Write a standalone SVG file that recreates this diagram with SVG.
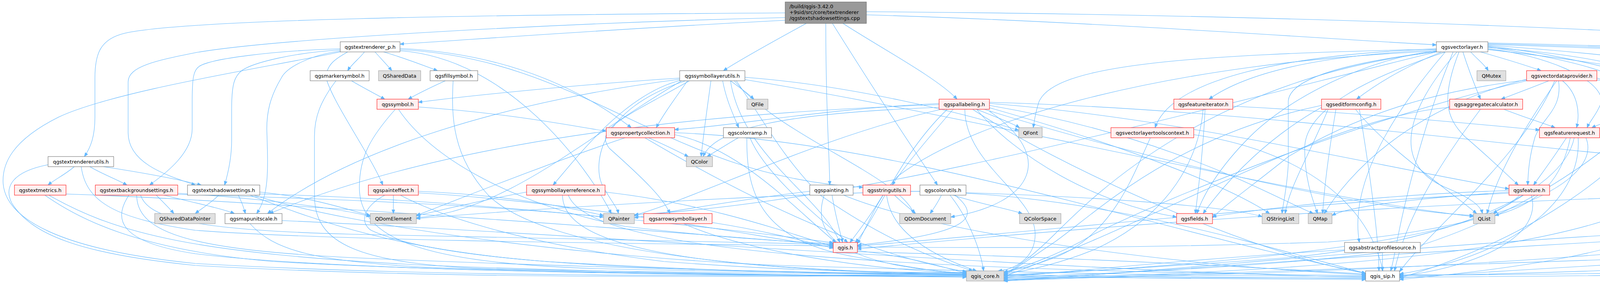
<svg xmlns="http://www.w3.org/2000/svg" width="5460" height="725" viewBox="0 0 5460 725">
<defs>
<style>
rect{stroke-width:1}
.w rect{fill:#ffffff;stroke:#666666}
.r rect{fill:#fff0f0;stroke:#ff0000}
.g rect{fill:#e0e0e0;stroke:#999999}
.t rect{fill:#999999;stroke:#666666}
text{font-family:"DejaVu Sans","Liberation Sans",sans-serif;font-size:12.85px;fill:#000000;text-anchor:middle}
.t text{text-anchor:start}
#edges path{fill:none;stroke:#63b8ff;stroke-width:1.1;marker-end:url(#a)}
</style>
<marker id="a" markerUnits="userSpaceOnUse" viewBox="0 0 11 9" markerWidth="11" markerHeight="9" refX="10" refY="4" orient="auto"><path d="M0,0 L10,4 L0,8 z" fill="#63b8ff" stroke="#63b8ff" stroke-width="1"/></marker>
</defs>
<rect width="5460" height="725" fill="#ffffff"/>
<g id="edges">
<path d="M2010,33 C1200,38 480,50 320,85 C255,100 243,140 243,200 L243,300 C243,350 232,378 216,401"/>
<path d="M2010,45 C1400,60 700,100 500,135 C400,155 328,170 328,210 L328,340 C328,420 430,450 500,474"/>
<path d="M2010,52 C1600,72 1200,102 1024,113"/>
<path d="M2064,60 C2000,95 1900,150 1852,181"/>
<path d="M2114,60 C2114,300 2124,400 2124,474"/>
<path d="M2131,60 C2250,250 2350,400 2400,474"/>
<path d="M2158,60 C2250,120 2400,200 2450,254"/>
<path d="M2218,38 C2800,55 3400,100 3677,115"/>
<path d="M2218,30 C3500,38 4900,100 5250,170 C5295,180 5302,195 5302,215 L5302,420 C5302,480 5340,515 5373,547"/>
<path d="M933,133 C920,150 900,165 890,181"/>
<path d="M960,133 C975,150 990,165 1003,181"/>
<path d="M982,133 C1040,150 1090,170 1120,181"/>
<path d="M871,125 C700,130 540,150 510,170 C495,180 492,200 492,260 L492,330 C492,390 430,440 383,474"/>
<path d="M871,128 C750,135 650,160 620,180 C600,195 593,215 593,280 L593,360 C593,400 585,440 575,474"/>
<path d="M871,131 C800,140 735,170 720,200 C690,250 683,290 683,330 C686,430 690,500 657,547"/>
<path d="M890,133 C860,150 835,165 835,200 C850,260 950,400 980,474"/>
<path d="M1024,124 C1250,135 1450,200 1616,327"/>
<path d="M1024,127 C1500,150 1700,450 2209,480"/>
<path d="M1024,130 C1300,150 1500,420 1565,547"/>
<path d="M871,133 C700,170 300,230 150,300 C30,360 5,420 8,470 C15,560 150,640 500,675 C1200,715 2000,705 2474,703"/>
<path d="M190,427 C170,445 140,460 123,474"/>
<path d="M230,427 C260,445 300,460 325,474"/>
<path d="M265,427 C350,440 450,458 515,474"/>
<path d="M123,422 C30,440 10,480 30,520 C80,600 200,650 500,680 C1200,720 2000,706 2474,706"/>
<path d="M208,427 C220,520 300,560 500,590 C900,620 1800,625 2133,630"/>
<path d="M115,500 C200,560 350,640 700,670 C1200,700 2000,705 2474,708"/>
<path d="M125,500 C300,600 500,650 1100,680 C2000,715 3000,712 3496,712"/>
<path d="M169,497 C600,510 1800,600 2133,628"/>
<path d="M400,500 C420,520 435,535 445,547"/>
<path d="M420,500 C500,520 570,535 600,547"/>
<path d="M455,495 C700,510 900,540 948,555"/>
<path d="M330,500 C290,560 300,620 500,650 C900,700 2000,706 2474,710"/>
<path d="M350,500 C350,600 500,640 900,660 C1800,700 3000,715 3496,716"/>
<path d="M360,500 C380,560 500,590 900,600 C1500,615 1900,622 2133,626"/>
<path d="M455,498 C900,510 1300,530 1545,556"/>
<path d="M560,500 C540,520 515,535 500,547"/>
<path d="M610,500 C620,520 625,535 628,547"/>
<path d="M665,492 C800,505 900,540 948,552"/>
<path d="M640,500 C800,560 1000,640 1400,670 C1900,700 2300,704 2474,704"/>
<path d="M650,500 C900,580 1500,660 2000,680 C2800,705 3300,708 3496,708"/>
<path d="M665,497 C1200,510 1900,590 2133,622"/>
<path d="M640,573 C700,640 800,670 1100,685 C1700,705 2200,706 2474,706"/>
<path d="M722,565 C1500,600 2800,700 3496,710"/>
<path d="M900,207 C930,225 960,240 985,254"/>
<path d="M860,207 C820,260 805,300 805,350 L805,500 C805,620 900,680 1300,690 C1800,700 2300,702 2474,702"/>
<path d="M1140,207 C1100,225 1070,240 1045,254"/>
<path d="M1160,207 C1155,300 1158,400 1250,500 C1400,650 2000,700 2474,700"/>
<path d="M1071,274 C1300,290 1450,320 1552,336"/>
<path d="M1020,280 C1100,400 1300,520 1600,580 C1900,615 2050,620 2133,624"/>
<path d="M1012,280 C950,350 920,400 920,480 C920,620 1100,680 1600,690 C2100,700 2400,700 2474,700"/>
<path d="M1007,500 L1007,547"/>
<path d="M1025,500 C1100,540 1300,620 1700,670 C2100,700 2350,698 2474,698"/>
<path d="M985,500 C930,530 920,570 950,590 C1100,660 1500,690 2200,700 C2800,710 3300,712 3496,714"/>
<path d="M1071,490 C1300,500 1450,530 1545,552"/>
<path d="M1071,494 C1500,520 1900,600 2133,634"/>
<path d="M1740,200 C1500,215 1200,245 1071,262"/>
<path d="M1870,207 C1895,225 1915,240 1930,254"/>
<path d="M1850,207 C1860,260 1880,300 1891,327"/>
<path d="M1820,207 C1810,280 1800,350 1795,401"/>
<path d="M1760,207 C1730,250 1700,290 1680,327"/>
<path d="M1745,205 C1600,240 1480,400 1416,474"/>
<path d="M1755,207 C1530,280 1520,420 1540,470 C1560,510 1580,530 1583,547"/>
<path d="M1765,207 C1600,300 1520,330 1560,380 C1650,460 1700,510 1715,547"/>
<path d="M1740,203 C1300,260 900,380 685,547"/>
<path d="M1745,207 C1500,350 1300,540 1066,558"/>
<path d="M1880,207 C2000,350 2300,450 2340,547"/>
<path d="M1907,198 C2200,220 2500,300 2608,334"/>
<path d="M1870,207 C1900,400 2100,500 2150,621"/>
<path d="M1885,207 C1950,300 2000,400 2100,500 C2300,640 2450,680 2490,694"/>
<path d="M1907,204 C2500,300 3300,500 3772,555"/>
<path d="M1660,353 C1700,370 1740,390 1762,401"/>
<path d="M1651,353 C1900,500 2200,650 2474,696"/>
<path d="M1600,353 C1400,420 1200,500 1066,552"/>
<path d="M1727,345 C1900,380 2050,550 2140,621"/>
<path d="M1727,340 C2300,360 3000,600 3496,700"/>
<path d="M1890,353 C1860,370 1830,390 1810,401"/>
<path d="M1912,353 C1910,500 1950,620 2200,660 C2350,690 2420,698 2474,700"/>
<path d="M1920,353 C1960,450 2100,560 2170,621"/>
<path d="M1348,492 C1250,510 1120,540 1066,553"/>
<path d="M1440,500 C1440,620 1700,690 2474,704"/>
<path d="M1455,500 C1500,620 2000,690 3496,706"/>
<path d="M1549,492 C1800,520 2000,590 2133,632"/>
<path d="M1750,573 C1900,640 2200,690 2474,700"/>
<path d="M1823,570 C1950,590 2050,615 2133,636"/>
<path d="M2073,490 C1900,510 1700,545 1624,558"/>
<path d="M2130,500 C2140,560 2150,590 2157,621"/>
<path d="M2110,500 C2090,560 2095,640 2300,680 C2400,697 2450,699 2474,699"/>
<path d="M2160,500 C2400,600 3000,680 3496,704"/>
<path d="M2260,500 C2230,550 2200,590 2176,621"/>
<path d="M2290,500 C2310,520 2330,535 2344,547"/>
<path d="M2270,500 C2280,600 2400,660 2500,694"/>
<path d="M2331,490 C2800,500 3150,530 3231,555"/>
<path d="M2410,500 C2400,520 2390,535 2381,547"/>
<path d="M2440,500 C2500,520 2580,535 2617,547"/>
<path d="M2445,500 C2520,560 2470,600 2195,628"/>
<path d="M2432,500 C2480,560 2510,640 2518,694"/>
<path d="M2355,490 C1900,500 1300,540 1066,560"/>
<path d="M2473,495 C2900,520 3300,650 3496,700"/>
<path d="M2440,280 C2380,350 2320,420 2284,474"/>
<path d="M2500,280 C2550,300 2590,315 2610,327"/>
<path d="M2404,265 C2100,280 1900,320 1727,332"/>
<path d="M2404,275 C2000,290 1830,330 1800,401"/>
<path d="M2410,280 C2100,350 1800,500 1624,552"/>
<path d="M2533,265 C3000,300 3500,420 3863,484"/>
<path d="M2500,280 C2600,400 2800,520 3012,556"/>
<path d="M2533,270 C3000,350 3250,500 3362,547"/>
<path d="M2533,276 C2900,380 3150,480 3250,547"/>
<path d="M2520,280 C2900,400 3500,540 3772,552"/>
<path d="M2533,262 C3200,280 3900,380 4245,405"/>
<path d="M2470,280 C2470,420 2650,500 2650,600 C2650,660 2600,690 2555,694"/>
<path d="M2490,280 C2700,420 3200,650 3496,700"/>
<path d="M2425,280 C2300,400 2250,550 2190,621"/>
<path d="M2533,285 C2700,400 2650,520 2434,556"/>
<path d="M2404,268 C1500,300 1000,420 690,547"/>
<path d="M3765,133 C3780,150 3800,165 3810,181"/>
<path d="M3790,133 C3850,150 3900,165 3945,181"/>
<path d="M3745,133 C3760,180 3780,230 3790,254"/>
<path d="M3690,133 C3600,170 3530,210 3473,254"/>
<path d="M3735,133 C3690,250 3700,300 3750,350 C3820,410 3860,450 3887,474"/>
<path d="M3677,128 C3400,140 3200,180 3095,254"/>
<path d="M3677,125 C3300,140 3000,200 2957,327"/>
<path d="M3677,130 C3500,150 3300,250 3200,350 C3120,430 3080,500 3064,547"/>
<path d="M3677,132 C3450,160 3300,200 3298,260 L3298,420 C3295,480 3285,520 3282,547"/>
<path d="M3700,133 C3500,200 3340,280 3340,380 C3340,460 3360,510 3373,547"/>
<path d="M3730,133 C3600,280 3560,420 3700,480 C3760,505 3790,525 3795,547"/>
<path d="M3809,125 C3950,140 4100,200 4100,260 C4090,290 4070,310 4063,327"/>
<path d="M3809,120 C4000,150 4150,180 4230,254"/>
<path d="M3809,122 C4100,140 4350,200 4330,280 C4320,300 4310,315 4305,327"/>
<path d="M3809,118 C4100,150 4400,250 4547,327"/>
<path d="M3809,127 C4300,180 4750,280 4720,350 C4700,390 4550,395 4423,405"/>
<path d="M3809,116 C4300,150 4900,230 4900,350 C4900,450 4850,510 4836,547"/>
<path d="M3809,112 C4500,130 5050,160 5052,250 L5052,350 C5050,420 5030,450 5019,474"/>
<path d="M3809,114 C4500,135 5100,170 5102,250 L5102,450 C5100,530 5000,580 4950,621"/>
<path d="M3809,110 C4700,130 5158,160 5158,220 L5158,547"/>
<path d="M3700,133 C3600,250 3450,450 3480,621"/>
<path d="M3720,133 C3650,300 3600,500 3580,600 C3570,650 3565,680 3560,694"/>
<path d="M3677,133 C3100,200 2800,500 2700,600 C2650,650 2600,690 2570,700"/>
<path d="M3677,131 C3000,160 2500,300 2300,450 C2250,500 2220,580 2195,624"/>
<path d="M3677,126 C3000,140 2700,170 2660,260 C2650,290 2648,310 2645,327"/>
<path d="M3677,133 C3000,300 2200,520 1624,550"/>
<path d="M3965,207 C3920,225 3880,240 3843,254"/>
<path d="M4000,207 C4040,240 4045,290 4036,327"/>
<path d="M3990,207 C4000,280 3950,300 3930,350 C3915,400 3912,440 3911,474"/>
<path d="M4088,200 C4140,215 4175,235 4194,254"/>
<path d="M3985,207 C3900,330 3830,450 3807,547"/>
<path d="M4088,205 C4500,240 4800,300 4800,400 C4800,480 4790,520 4787,547"/>
<path d="M3908,205 C3700,230 3500,280 3300,400 C3200,480 3130,530 3104,558"/>
<path d="M3980,207 C3900,400 3650,600 3583,696"/>
<path d="M3908,207 C3500,300 3000,500 2800,600 C2700,660 2600,690 2570,697"/>
<path d="M3908,203 C3600,280 3450,450 3390,547"/>
<path d="M3420,280 C3400,400 3390,480 3386,547"/>
<path d="M3400,280 C3350,400 3300,480 3290,547"/>
<path d="M3383,275 C3250,350 3150,450 3080,547"/>
<path d="M3383,270 C3000,350 2800,550 2700,620 C2640,660 2600,690 2570,705"/>
<path d="M3480,280 C3500,400 3530,600 3530,694"/>
<path d="M3470,280 C3550,380 3700,480 3780,547"/>
<path d="M3850,280 C3900,300 3950,315 3981,327"/>
<path d="M3790,280 C3700,400 3600,550 3570,694"/>
<path d="M3711,275 C3400,300 3000,550 2570,708"/>
<path d="M3156,272 C3500,290 3800,320 3941,333"/>
<path d="M3080,280 C3070,400 3000,550 2800,640 C2700,680 2620,695 2570,702"/>
<path d="M3085,280 C3080,380 3070,470 3060,547"/>
<path d="M2945,353 C2900,450 2850,600 2700,660 C2620,690 2580,695 2570,697"/>
<path d="M3056,345 C3300,380 3500,500 3540,694"/>
<path d="M4010,353 C3980,400 3950,440 3926,474"/>
<path d="M4095,343 C4180,360 4230,380 4268,401"/>
<path d="M4020,353 C4000,450 3950,520 3827,552"/>
<path d="M4030,353 C4000,500 3700,620 3300,660 C2900,690 2700,698 2570,704"/>
<path d="M4040,353 C4050,500 3900,650 3583,702"/>
<path d="M4060,353 C4100,450 3900,580 3400,620 C2800,640 2400,633 2195,633"/>
<path d="M3900,500 C3870,520 3840,535 3823,547"/>
<path d="M3863,488 C3500,500 3200,540 3104,555"/>
<path d="M3890,500 C3800,600 3300,670 2570,706"/>
<path d="M3920,500 C3950,600 3800,680 3583,708"/>
<path d="M3863,495 C3300,520 2600,600 2195,630"/>
<path d="M3863,492 C3600,510 3450,530 3410,552"/>
<path d="M4210,280 C4150,300 4100,315 4075,327"/>
<path d="M4322,273 C4600,290 4850,330 4850,420 C4850,480 4830,520 4823,547"/>
<path d="M4225,280 C4100,400 3900,550 3600,640 C3200,690 2800,700 2570,712"/>
<path d="M4260,280 C4150,450 3900,620 3583,712"/>
<path d="M4297,353 C4305,370 4315,390 4325,401"/>
<path d="M4530,353 C4480,370 4420,390 4380,401"/>
<path d="M4370,427 C4500,470 4700,520 4780,553"/>
<path d="M4330,427 C4250,580 3800,690 2570,714"/>
<path d="M4340,427 C4360,550 4300,650 3583,716"/>
<path d="M4960,500 C4920,515 4880,530 4845,547"/>
<path d="M5065,493 C5200,510 5270,530 5280,560 C5285,590 5280,605 5278,621"/>
<path d="M4990,500 C4900,560 4700,650 4400,680 C4000,700 3700,705 3583,706"/>
<path d="M4975,500 C4700,650 3500,700 2570,716"/>
<path d="M4947,488 C4000,495 3000,560 2195,638"/>
<path d="M5180,573 C5210,590 5240,605 5255,621"/>
<path d="M5060,565 C4000,580 3000,700 2570,718"/>
<path d="M5150,573 C5050,700 4500,705 3583,710"/>
<path d="M5370,573 C5340,590 5310,605 5290,621"/>
<path d="M5336,568 C4500,580 3000,690 2570,720"/>
<path d="M5395,573 C5380,650 5300,670 5000,680 C4400,700 3800,705 3583,704"/>
<path d="M4832,645 C4400,660 3900,690 3583,712"/>
<path d="M4832,640 C4000,670 3000,700 2570,719"/>
<path d="M3539,647 L3539,694"/>
<path d="M3442,640 C3100,660 2800,690 2570,710"/>
<path d="M2195,642 C2350,660 2430,690 2474,700"/>
<path d="M2195,645 C2800,660 3300,690 3496,702"/>
</g>
<g id="node-top" class="t"><rect x="2010" y="5" width="208" height="55"/><text x="2021" y="20.5">/build/qgis-3.42.0</text><text x="2021" y="35.5">+9sid/src/core/textrenderer</text><text x="2021" y="50.5">/qgstextshadowsettings.cpp</text></g>
<g id="node-qgstextrenderer_p" class="w"><rect x="871" y="107" width="153" height="26"/><text x="947.5" y="124.5">qgstextrenderer_p.h</text></g>
<g id="node-qgsvectorlayer" class="w"><rect x="3677" y="107" width="132" height="26"/><text x="3743" y="124.5">qgsvectorlayer.h</text></g>
<g id="node-qgsmarkersymbol" class="w"><rect x="794" y="181" width="151" height="26"/><text x="869.5" y="198.5">qgsmarkersymbol.h</text></g>
<g id="node-QSharedData" class="g"><rect x="969" y="181" width="108" height="26"/><text x="1023" y="198.5">QSharedData</text></g>
<g id="node-qgsfillsymbol" class="w"><rect x="1101" y="181" width="122" height="26"/><text x="1162" y="198.5">qgsfillsymbol.h</text></g>
<g id="node-qgssymbollayerutils" class="w"><rect x="1740" y="181" width="167" height="26"/><text x="1823.5" y="198.5">qgssymbollayerutils.h</text></g>
<g id="node-QMutex" class="g"><rect x="3781" y="181" width="74" height="26"/><text x="3818" y="198.5">QMutex</text></g>
<g id="node-qgsvectordataprovider" class="r"><rect x="3908" y="181" width="180" height="26"/><text x="3998" y="198.5">qgsvectordataprovider.h</text></g>
<g id="node-qgssymbol" class="r"><rect x="965" y="254" width="106" height="26"/><text x="1018" y="271.5">qgssymbol.h</text></g>
<g id="node-QFile" class="g"><rect x="1912" y="254" width="54" height="26"/><text x="1939" y="271.5">QFile</text></g>
<g id="node-qgspallabeling" class="r"><rect x="2404" y="254" width="129" height="26"/><text x="2468.5" y="271.5">qgspallabeling.h</text></g>
<g id="node-qgsfeatureiterator" class="r"><rect x="3005" y="254" width="151" height="26"/><text x="3080.5" y="271.5">qgsfeatureiterator.h</text></g>
<g id="node-qgseditformconfig" class="r"><rect x="3383" y="254" width="152" height="26"/><text x="3459" y="271.5">qgseditformconfig.h</text></g>
<g id="node-qgsaggregatecalculator" class="r"><rect x="3711" y="254" width="187" height="26"/><text x="3804.5" y="271.5">qgsaggregatecalculator.h</text></g>
<g id="node-qgsfeaturesource" class="w"><rect x="4175" y="254" width="147" height="26"/><text x="4248.5" y="271.5">qgsfeaturesource.h</text></g>
<g id="node-qgspropertycollection" class="r"><rect x="1552" y="327" width="175" height="26"/><text x="1639.5" y="344.5">qgspropertycollection.h</text></g>
<g id="node-qgscolorramp" class="w"><rect x="1852" y="327" width="123" height="26"/><text x="1913.5" y="344.5">qgscolorramp.h</text></g>
<g id="node-QFont" class="g"><rect x="2608" y="327" width="60" height="26"/><text x="2638" y="344.5">QFont</text></g>
<g id="node-qgsvectorlayertoolscontext" class="r"><rect x="2844" y="327" width="212" height="26"/><text x="2950" y="344.5">qgsvectorlayertoolscontext.h</text></g>
<g id="node-qgsfeaturerequest" class="r"><rect x="3941" y="327" width="154" height="26"/><text x="4018" y="344.5">qgsfeaturerequest.h</text></g>
<g id="node-qgsexpressioncontextgenerator" class="w"><rect x="4170" y="327" width="240" height="26"/><text x="4290" y="344.5">qgsexpressioncontextgenerator.h</text></g>
<g id="node-qgsexpressioncontextscopegenerator" class="w"><rect x="4434" y="327" width="277" height="26"/><text x="4572.5" y="344.5">qgsexpressioncontextscopegenerator.h</text></g>
<g id="node-qgstextrendererutils" class="w"><rect x="123" y="401" width="168" height="26"/><text x="207" y="418.5">qgstextrendererutils.h</text></g>
<g id="node-QColor" class="g"><rect x="1757" y="401" width="67" height="26"/><text x="1790.5" y="418.5">QColor</text></g>
<g id="node-qgsexpressioncontext" class="r"><rect x="4245" y="401" width="178" height="26"/><text x="4334" y="418.5">qgsexpressioncontext.h</text></g>
<g id="node-qgstextmetrics" class="r"><rect x="37" y="474" width="132" height="26"/><text x="103" y="491.5">qgstextmetrics.h</text></g>
<g id="node-qgstextbackgroundsettings" class="r"><rect x="244" y="474" width="211" height="26"/><text x="349.5" y="491.5">qgstextbackgroundsettings.h</text></g>
<g id="node-qgstextshadowsettings" class="w"><rect x="480" y="474" width="185" height="26"/><text x="572.5" y="491.5">qgstextshadowsettings.h</text></g>
<g id="node-qgspainteffect" class="r"><rect x="943" y="474" width="128" height="26"/><text x="1007" y="491.5">qgspainteffect.h</text></g>
<g id="node-qgssymbollayerreference" class="r"><rect x="1348" y="474" width="201" height="26"/><text x="1448.5" y="491.5">qgssymbollayerreference.h</text></g>
<g id="node-qgspainting" class="w"><rect x="2073" y="474" width="111" height="26"/><text x="2128.5" y="491.5">qgspainting.h</text></g>
<g id="node-qgsstringutils" class="r"><rect x="2209" y="474" width="122" height="26"/><text x="2270" y="491.5">qgsstringutils.h</text></g>
<g id="node-qgscolorutils" class="w"><rect x="2355" y="474" width="118" height="26"/><text x="2414" y="491.5">qgscolorutils.h</text></g>
<g id="node-qgsfeature" class="r"><rect x="3863" y="474" width="104" height="26"/><text x="3915" y="491.5">qgsfeature.h</text></g>
<g id="node-qgsmaplayer" class="r"><rect x="4947" y="474" width="118" height="26"/><text x="5006" y="491.5">qgsmaplayer.h</text></g>
<g id="node-QSharedDataPointer" class="g"><rect x="396" y="547" width="155" height="26"/><text x="473.5" y="564.5">QSharedDataPointer</text></g>
<g id="node-qgsmapunitscale" class="w"><rect x="576" y="547" width="146" height="26"/><text x="649" y="564.5">qgsmapunitscale.h</text></g>
<g id="node-QDomElement" class="g"><rect x="948" y="547" width="118" height="26"/><text x="1007" y="564.5">QDomElement</text></g>
<g id="node-QPainter" class="g"><rect x="1545" y="547" width="79" height="26"/><text x="1584.5" y="564.5">QPainter</text></g>
<g id="node-qgsarrowsymbollayer" class="r"><rect x="1648" y="547" width="175" height="26"/><text x="1735.5" y="564.5">qgsarrowsymbollayer.h</text></g>
<g id="node-QDomDocument" class="g"><rect x="2303" y="547" width="131" height="26"/><text x="2368.5" y="564.5">QDomDocument</text></g>
<g id="node-QColorSpace" class="g"><rect x="2610" y="547" width="106" height="26"/><text x="2663" y="564.5">QColorSpace</text></g>
<g id="node-qgsfields" class="r"><rect x="3012" y="547" width="92" height="26"/><text x="3058" y="564.5">qgsfields.h</text></g>
<g id="node-QStringList" class="g"><rect x="3231" y="547" width="94" height="26"/><text x="3278" y="564.5">QStringList</text></g>
<g id="node-QMap" class="g"><rect x="3349" y="547" width="61" height="26"/><text x="3379.5" y="564.5">QMap</text></g>
<g id="node-QList" class="g"><rect x="3772" y="547" width="55" height="26"/><text x="3799.5" y="564.5">QList</text></g>
<g id="node-QSet" class="g"><rect x="4780" y="547" width="54" height="26"/><text x="4807" y="564.5">QSet</text></g>
<g id="node-qgsvectorsimplifymethod" class="r"><rect x="5060" y="547" width="201" height="26"/><text x="5160.5" y="564.5">qgsvectorsimplifymethod.h</text></g>
<g id="node-qgsunittypes" class="w"><rect x="5336" y="547" width="119" height="26"/><text x="5395.5" y="564.5">qgsunittypes.h</text></g>
<g id="node-qgis" class="r"><rect x="2133" y="621" width="62" height="26"/><text x="2164" y="638.5">qgis.h</text></g>
<g id="node-qgsabstractprofilesource" class="w"><rect x="3442" y="621" width="194" height="26"/><text x="3539" y="638.5">qgsabstractprofilesource.h</text></g>
<g id="node-qgsattributetableconfig" class="r"><rect x="4832" y="621" width="185" height="26"/><text x="4924.5" y="638.5">qgsattributetableconfig.h</text></g>
<g id="node-QObject" class="g"><rect x="5233" y="621" width="74" height="26"/><text x="5270" y="638.5">QObject</text></g>
<g id="node-qgis_core" class="g"><rect x="2474" y="694" width="96" height="26"/><text x="2522" y="711.5">qgis_core.h</text></g>
<g id="node-qgis_sip" class="w"><rect x="3496" y="694" width="87" height="26"/><text x="3539.5" y="711.5">qgis_sip.h</text></g>
</svg>
